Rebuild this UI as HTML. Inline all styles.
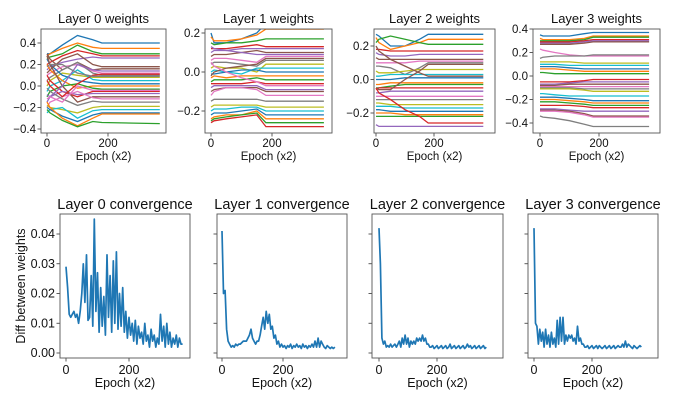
<!DOCTYPE html>
<html><head><meta charset="utf-8">
<style>
html,body{margin:0;padding:0;background:#fff;}
svg{display:block;font-family:"Liberation Sans",sans-serif;}
</style></head>
<body>
<svg id="chart" width="674" height="414" viewBox="0 0 674 414" xmlns="http://www.w3.org/2000/svg"></svg>
<script>
const epochKeys = [0,10,50,100,150,180,370];
const layer0Weights = [
[0.30,0.30,0.38,0.47,0.43,0.40,0.40],[0.28,0.30,0.35,0.40,0.36,0.35,0.35],[0.25,0.27,0.30,0.38,0.32,0.30,0.30],
[0.20,0.22,0.28,0.33,0.30,0.28,0.28],[0.15,0.18,0.22,0.25,0.27,0.26,0.26],[0.30,0.25,0.15,0.22,0.15,0.16,0.16],
[0.10,0.12,0.18,0.20,0.14,0.12,0.12],[0.05,0.08,0.15,0.22,0.12,0.10,0.10],[0.00,0.05,0.12,0.10,0.08,0.08,0.08],
[-0.05,0.00,0.05,0.15,0.06,0.05,0.05],[0.25,0.20,0.10,0.05,0.03,0.02,0.02],[0.20,0.15,0.05,-0.02,0.00,0.00,0.00],
[-0.10,-0.05,0.00,0.02,-0.02,-0.03,-0.03],[0.10,0.05,-0.05,-0.10,-0.05,-0.05,-0.05],[-0.15,-0.10,-0.05,-0.08,-0.07,-0.07,-0.07],
[0.28,0.20,0.00,-0.15,-0.10,-0.10,-0.10],[-0.20,-0.15,-0.10,-0.05,-0.11,-0.12,-0.12],[-0.02,-0.05,-0.12,-0.18,-0.14,-0.15,-0.15],
[-0.18,-0.20,-0.22,-0.25,-0.20,-0.19,-0.19],[-0.25,-0.22,-0.20,-0.30,-0.23,-0.22,-0.22],[-0.20,-0.22,-0.28,-0.33,-0.27,-0.25,-0.25],
[-0.15,-0.20,-0.30,-0.37,-0.30,-0.26,-0.26],[-0.22,-0.25,-0.32,-0.38,-0.33,-0.34,-0.35],[0.05,0.0,-0.1,0.02,0.10,0.11,0.11],
[-0.08,-0.1,0.0,0.2,0.15,0.14,0.14],[0.12,0.15,0.25,0.30,0.2,0.18,0.18],[-0.12,-0.1,-0.15,0.0,-0.04,-0.04,-0.04],
[0.18,0.2,0.2,0.12,0.09,0.09,0.09]];
const layer1Weights = [
[0.20,0.15,0.15,0.17,0.20,0.25,0.25],[0.18,0.16,0.16,0.17,0.19,0.22,0.22],[0.15,0.14,0.15,0.15,0.16,0.17,0.17],
[0.12,0.12,0.12,0.13,0.14,0.13,0.13],[0.10,0.11,0.11,0.12,0.12,0.12,0.12],[0.08,0.09,0.09,0.10,0.11,0.10,0.10],
[0.06,0.07,0.07,0.06,0.05,0.08,0.08],[0.04,0.05,0.05,0.04,0.03,0.06,0.06],[0.02,0.03,0.02,0.02,0.0,0.04,0.04],
[0.0,0.01,0.0,-0.01,0.02,0.02,0.02],[-0.01,-0.01,0.0,0.01,0.01,0.0,0.0],[-0.03,-0.02,-0.03,-0.02,-0.02,-0.02,-0.02],
[-0.05,-0.04,-0.04,-0.04,-0.03,-0.04,-0.04],[-0.06,-0.06,-0.06,-0.06,-0.05,-0.06,-0.06],[-0.08,-0.07,-0.07,-0.07,-0.07,-0.09,-0.09],
[-0.10,-0.09,-0.08,-0.08,-0.08,-0.10,-0.10],[-0.12,-0.10,-0.08,-0.08,-0.09,-0.12,-0.12],[-0.15,-0.14,-0.14,-0.14,-0.14,-0.15,-0.15],
[-0.18,-0.17,-0.17,-0.17,-0.17,-0.18,-0.18],[-0.20,-0.19,-0.19,-0.18,-0.18,-0.20,-0.20],[-0.22,-0.21,-0.21,-0.20,-0.19,-0.22,-0.22],
[-0.24,-0.23,-0.22,-0.22,-0.20,-0.24,-0.24],[-0.25,-0.24,-0.23,-0.22,-0.21,-0.26,-0.26],[-0.26,-0.25,-0.24,-0.23,-0.22,-0.28,-0.28],
[0.13,0.12,0.11,0.10,0.09,0.09,0.09],[-0.02,0.0,0.02,0.03,0.04,0.07,0.07],[0.05,0.03,0.0,-0.03,-0.05,-0.07,-0.07]];
const layer2Weights = [
[0.27,0.26,0.20,0.20,0.24,0.27,0.27],[0.25,0.22,0.18,0.20,0.22,0.24,0.24],[0.22,0.24,0.26,0.24,0.22,0.21,0.21],
[0.18,0.18,0.17,0.17,0.17,0.17,0.17],[0.16,0.15,0.14,0.14,0.15,0.15,0.15],[0.13,0.12,0.12,0.12,0.12,0.12,0.12],
[0.10,0.10,0.10,0.10,0.11,0.11,0.11],[0.08,0.08,0.07,0.03,0.07,0.10,0.10],[0.05,0.04,0.04,0.05,0.06,0.06,0.06],
[0.02,0.02,0.03,0.03,0.03,0.03,0.03],[0.0,0.0,0.0,0.01,0.01,0.01,0.01],[-0.03,-0.03,-0.02,-0.02,-0.02,-0.02,-0.02],
[-0.05,-0.05,-0.04,-0.03,-0.03,-0.03,-0.03],[-0.06,-0.05,-0.05,-0.05,-0.05,-0.05,-0.05],[-0.08,-0.08,-0.07,-0.07,-0.07,-0.07,-0.07],
[-0.05,-0.06,-0.06,0.00,0.05,0.09,0.09],[-0.10,-0.10,-0.10,-0.10,-0.10,-0.10,-0.10],[-0.12,-0.12,-0.12,-0.12,-0.12,-0.12,-0.12],
[-0.14,-0.14,-0.15,-0.15,-0.15,-0.15,-0.15],[-0.16,-0.16,-0.16,-0.17,-0.17,-0.17,-0.17],[-0.18,-0.18,-0.19,-0.19,-0.19,-0.19,-0.19],
[-0.20,-0.20,-0.20,-0.21,-0.21,-0.21,-0.21],[-0.22,-0.22,-0.22,-0.22,-0.22,-0.22,-0.22],[-0.05,-0.08,-0.12,-0.18,-0.22,-0.26,-0.26],
[-0.27,-0.28,-0.28,-0.28,-0.28,-0.28,-0.28],[0.20,0.17,0.12,0.08,0.04,0.02,0.02]];
const layer3Weights = [
[0.35,0.34,0.34,0.34,0.36,0.37,0.37],[0.32,0.31,0.31,0.31,0.32,0.34,0.34],[0.30,0.30,0.30,0.30,0.31,0.33,0.33],
[0.29,0.29,0.29,0.29,0.30,0.31,0.31],[0.28,0.28,0.28,0.28,0.29,0.30,0.30],[0.27,0.27,0.27,0.27,0.28,0.29,0.29],
[0.23,0.22,0.20,0.18,0.17,0.17,0.17],[0.15,0.16,0.17,0.17,0.17,0.18,0.18],[0.12,0.12,0.12,0.12,0.11,0.11,0.11],
[0.10,0.10,0.10,0.09,0.09,0.09,0.09],[0.08,0.08,0.08,0.07,0.06,0.06,0.06],[0.06,0.06,0.06,0.05,0.04,0.04,0.04],
[0.03,0.03,0.02,0.02,0.02,0.02,0.02],[-0.05,-0.05,-0.05,-0.05,-0.04,-0.03,-0.03],[-0.07,-0.07,-0.07,-0.06,-0.05,-0.05,-0.05],
[-0.08,-0.08,-0.08,-0.07,-0.07,-0.07,-0.07],[-0.09,-0.09,-0.09,-0.09,-0.09,-0.09,-0.09],[-0.10,-0.10,-0.10,-0.10,-0.11,-0.11,-0.11],
[-0.11,-0.11,-0.11,-0.11,-0.12,-0.13,-0.13],[-0.15,-0.15,-0.16,-0.17,-0.17,-0.17,-0.17],[-0.18,-0.18,-0.18,-0.19,-0.20,-0.21,-0.21],
[-0.20,-0.20,-0.20,-0.21,-0.22,-0.23,-0.23],[-0.22,-0.22,-0.22,-0.23,-0.24,-0.25,-0.25],[-0.25,-0.25,-0.25,-0.25,-0.26,-0.27,-0.27],
[-0.28,-0.28,-0.28,-0.29,-0.30,-0.30,-0.30],[-0.29,-0.29,-0.29,-0.30,-0.32,-0.34,-0.34],[-0.30,-0.30,-0.30,-0.31,-0.33,-0.35,-0.35],
[-0.34,-0.35,-0.36,-0.38,-0.41,-0.43,-0.43]];
// convergence sampled every 5 epochs (x0.001)
const convStep = 5;
const conv0 = [29,22,13,12,13,14,12,13,10,14,20,30,17,33,11,12,26,9,45,14,27,7,22,9,19,6,33,12,26,7,31,10,34,8,20,9,22,7,14,5,12,6,10,4,11,3,9,5,7,3,10,4,6,2,8,4,6,2,5,3,13,4,9,2,10,3,7,2,5,3,6,2,5,3,3];
const conv1 = [41,20,21,8,4,3,2,2.5,2,3,2.5,3,3,3.5,4,4,4,5,6,8,5,4,3,4,4,6,9,12,8,14,10,13,8,9,5,6,3,4,2,3,2,2.5,1.5,2.5,2,3,1.5,2.5,2,3,2,2.5,1.5,3,2,2.5,1.5,2.5,2,3,2,4,2,5,2,4,3,2,1.5,2.5,2,1.5,2,1.5,2];
const conv2 = [42,30,5,3,4,2,2.5,2,3,2,2.5,3,2,3,4,2,5,3,6,3,5,2,4,3,4,3,5,4,5,4,6,4,5,3,3,2,2,2.5,1.5,2,2.5,1.5,2,2.5,1.5,2,2.5,1.5,2,3,1.5,2,2.5,1.5,2,2.5,1.5,2,2.5,1.5,2,3,2,2.5,1.5,2,2.5,1.5,2,2.5,1.5,2,2.5,1.5,2];
const conv3 = [42,10,9,3,8,4,7,2,8,3,6,2,7,3,5,2,11,3,12,4,12,3,6,4,6,5,6,4,5,3,9,4,5,3,3,2,2,2.5,1.5,2,2.5,1.5,2,2.5,1.5,2.5,2,1.5,2,2.5,1.5,2,2.5,1.5,2,2.5,1.5,2,2.5,2,2,3,2,4,2,3,2.5,2,1.5,2.5,2,1.5,2,2.5,2];
const weightTicks = [[-0.4,-0.2,0.0,0.2,0.4],[-0.2,0.0,0.2],[-0.2,0.0,0.2],[-0.4,-0.2,0.0,0.2,0.4]];
const convTicks = [0.00,0.01,0.02,0.03,0.04];
const xTicks = [0,200];
const colors = ['#1f77b4','#ff7f0e','#2ca02c','#d62728','#9467bd','#8c564b','#e377c2','#7f7f7f','#bcbd22','#17becf'];

const svg = document.getElementById('chart');
const NS = 'http://www.w3.org/2000/svg';
function mk(tag, attrs, parent){const e=document.createElementNS(NS,tag);for(const k in attrs)e.setAttribute(k,attrs[k]);(parent||svg).appendChild(e);return e;}

const topLayout = [
 {l:41,r:166,t:29,b:133,x0:47,x200:108,va:0.4,pa:43,vb:-0.4,pb:129},
 {l:205,r:332,t:29,b:133,x0:211,x200:272,va:0.2,pa:33,vb:-0.2,pb:111},
 {l:374,r:495,t:29,b:133,x0:376,x200:434,va:0.2,pa:46,vb:-0.2,pb:113},
 {l:533,r:660,t:29,b:133,x0:540,x200:599,va:0.4,pa:29,vb:-0.4,pb:123}];
const botLayout = [
 {l:60,r:190,t:214,b:358,x0:66,x200:129},
 {l:217,r:347,t:214,b:358,x0:222,x200:283},
 {l:372,r:503,t:214,b:358,x0:379,x200:437},
 {l:528,r:658,t:214,b:358,x0:534,x200:592}];
const weightData = [layer0Weights,layer1Weights,layer2Weights,layer3Weights];
const convData = [conv0,conv1,conv2,conv3];

function axes(L, title, titleSize, titleY, ticks, fy, fmt, showTickLabels, idx, kind){
  const g = mk('g',{});
  
  
  const fx = e => L.x0 + (L.x200-L.x0)*e/200;
  const t = mk('text',{x:(L.l+L.r)/2,y:titleY,'text-anchor':'middle','font-size':titleSize,fill:'#111'},g);
  t.textContent = title;
  
  
  const xl = mk('text',{x:(L.l+L.r)/2,y:L.b+(kind==='weights'?27:29),'text-anchor':'middle','font-size':kind==='weights'?11.5:12.5,fill:'#111'},g);
  xl.textContent = 'Epoch (x2)';
  
  
  xTicks.forEach(v=>{
    const x = fx(v);
    mk('line',{x1:x,x2:x,y1:L.b,y2:L.b+3.5,stroke:'#333','stroke-width':0.8},g);
    const tl = mk('text',{x:x,y:L.b+(kind==='weights'?14:16),'text-anchor':'middle','font-size':kind==='weights'?11.5:12.5,fill:'#111'},g);
    tl.textContent = v;
    
    
  });
  ticks.forEach(v=>{
    const y = fy(v);
    mk('line',{x1:L.l-3.5,x2:L.l,y1:y,y2:y,stroke:'#333','stroke-width':0.8},g);
    if(showTickLabels){
      const tl = mk('text',{x:L.l-5,y:y+4,'text-anchor':'end','font-size':kind==='weights'?11.5:12.5,fill:'#111'},g);
      tl.textContent = fmt(v);
      
      
    }
  });
  return {g, fx};
}

topLayout.forEach((L,i)=>{
  const fy = v => L.pa + (v-L.va)*(L.pb-L.pa)/(L.vb-L.va);
  const {g,fx} = axes(L,'Layer '+i+' weights',13,L.t-6,weightTicks[i],fy,v=>v.toFixed(1).replace('-','\u2212'),true,i,'weights');
  const cp = mk('clipPath',{id:'ct'+i},g); mk('rect',{x:L.l,y:L.t,width:L.r-L.l,height:L.b-L.t},cp);
  const lg = mk('g',{'clip-path':'url(#ct'+i+')'},g);
  weightData[i].forEach((s,j)=>{
    const pts = s.map((v,k)=>fx(epochKeys[k]).toFixed(1)+','+fy(v).toFixed(1)).join(' ');
    const p = mk('polyline',{points:pts,fill:'none',stroke:colors[j%10],'stroke-width':1.3},lg);
    
    
  });
  const fr = mk('rect',{x:L.l,y:L.t,width:L.r-L.l,height:L.b-L.t,fill:'none',stroke:'#555','stroke-width':0.9},g);
  
  
});

botLayout.forEach((L,i)=>{
  const fy = v => 353 + (v-0)*(234-353)/0.04;
  const {g,fx} = axes(L,'Layer '+i+' convergence',14.5,L.t-5,convTicks,fy,v=>v.toFixed(2),i===0,i,'convergence');
  const pts = convData[i].map((v,k)=>fx(k*convStep).toFixed(1)+','+fy(v/1000).toFixed(1)).join(' ');
  const p = mk('polyline',{points:pts,fill:'none',stroke:'#1f77b4','stroke-width':1.7,'stroke-linejoin':'round'},g);
  
  
  const fr = mk('rect',{x:L.l,y:L.t,width:L.r-L.l,height:L.b-L.t,fill:'none',stroke:'#555','stroke-width':0.9},g);
  
  
});
const yt = mk('text',{x:0,y:0,'text-anchor':'middle','font-size':12.5,fill:'#111',transform:'translate(25,286) rotate(-90)'});
yt.textContent = 'Diff between weights';


</script>
</body></html>
